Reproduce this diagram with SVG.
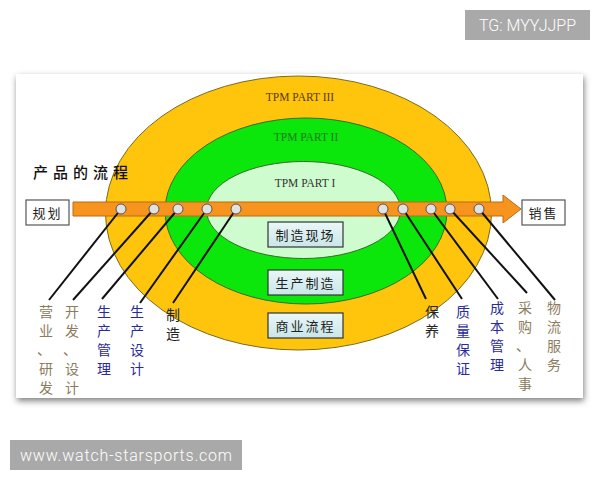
<svg xmlns="http://www.w3.org/2000/svg" width="600" height="480" viewBox="0 0 600 480">
<defs>
<filter id="sh" x="-5%" y="-5%" width="110%" height="115%">
<feDropShadow dx="1" dy="3" stdDeviation="3" flood-color="#000" flood-opacity="0.5"/>
</filter>
<linearGradient id="bx" x1="0" y1="0" x2="0" y2="1">
<stop offset="0" stop-color="#EAF7F7"/><stop offset="1" stop-color="#C9E6E8"/>
</linearGradient>
</defs>
<style>
.cjk{font-family:"Noto Sans CJK SC","Noto Sans CJK JP",sans-serif;}
.lbl{font-size:14px;text-anchor:middle;}
.gray{fill:#8C7C5E;}
.blue{fill:#2A2A9E;}
.blk{fill:#222;}
.tpm{font-family:"Liberation Serif","DejaVu Serif",serif;font-size:11.5px;text-anchor:middle;}
.box{fill:url(#bx);stroke:#333;stroke-width:1.2;}
.wbox{fill:#fff;stroke:#555;stroke-width:1.2;}
.dot{fill:#E2E2E2;stroke:#555;stroke-width:1;}
.conn line{stroke:#111;stroke-width:2;}
.wm{fill:#A9A9A9;}
.wmt{font-family:Roboto,"Liberation Sans",Arial,sans-serif;font-weight:300;font-size:16px;fill:#fff;}
</style>
<rect width="600" height="480" fill="#fff"/>
<g id="tg"><rect class="wm" x="465" y="10" width="125" height="30"/><text class="wmt" x="527.5" y="31" text-anchor="middle">TG: MYYJJPP</text></g>
<g id="card"><rect x="16" y="74" width="567" height="324" fill="#fff" filter="url(#sh)"/></g>
<g id="tpm3"><ellipse cx="298.5" cy="213" rx="193" ry="137" fill="#FFC50C" stroke="#7A6A20" stroke-width="1"/><text class="tpm" x="300" y="101" fill="#5A3A10">TPM PART III</text></g>
<g id="tpm2"><ellipse cx="306" cy="211" rx="141" ry="93" fill="#0BE60B" stroke="#3A6A2A" stroke-width="1"/><text class="tpm" x="306" y="141" fill="#1E7A1E">TPM PART II</text></g>
<g id="tpm1"><ellipse cx="303.5" cy="210" rx="97" ry="48.5" fill="#CFFCCF" stroke="#3A6A2A" stroke-width="1"/><text class="tpm" x="305" y="187" fill="#333">TPM PART I</text></g>
<g id="title"><text class="cjk" x="33" y="178" font-size="15" font-weight="500" letter-spacing="5" fill="#111">产品的流程</text></g>
<g id="flow"><path d="M73,202 H503 V195 L521,209 L503,223 V216 H73 Z" fill="#F7941D" stroke="#B86A18" stroke-width="1"/></g>
<g id="plan"><rect class="wbox" x="26" y="200" width="43" height="25"/><text class="cjk" x="47.5" y="217.5" font-size="13" text-anchor="middle" letter-spacing="2" fill="#222">规划</text></g>
<g id="sales"><rect class="wbox" x="522" y="200" width="43" height="25"/><text class="cjk" x="543.5" y="217.5" font-size="13" text-anchor="middle" letter-spacing="2" fill="#222">销售</text></g>
<g id="site"><rect class="box" x="268" y="222" width="75" height="25"/><text class="cjk" x="305.5" y="239.5" font-size="13" text-anchor="middle" letter-spacing="2" fill="#222">制造现场</text></g>
<g id="prod"><rect class="box" x="268" y="270" width="75" height="25"/><text class="cjk" x="305.5" y="287.5" font-size="13" text-anchor="middle" letter-spacing="2" fill="#222">生产制造</text></g>
<g id="biz"><rect class="box" x="268" y="313" width="75" height="25"/><text class="cjk" x="305.5" y="330.5" font-size="13" text-anchor="middle" letter-spacing="2" fill="#222">商业流程</text></g>
<g id="connectors" class="conn">
<line x1="121" y1="209" x2="49" y2="300"/>
<line x1="154" y1="209" x2="73" y2="300"/>
<line x1="178" y1="209" x2="102" y2="299"/>
<line x1="207" y1="209" x2="140" y2="303"/>
<line x1="236" y1="209" x2="173" y2="303"/>
<line x1="383" y1="209" x2="426" y2="299"/>
<line x1="403" y1="209" x2="462" y2="299"/>
<line x1="431" y1="209" x2="498" y2="299"/>
<line x1="450" y1="209" x2="527" y2="293"/>
<line x1="479" y1="209" x2="555" y2="300"/>
</g>
<g id="dots">
<circle class="dot" cx="121" cy="209" r="5"/><circle class="dot" cx="154" cy="209" r="5"/><circle class="dot" cx="178" cy="209" r="5"/><circle class="dot" cx="207" cy="209" r="5"/><circle class="dot" cx="236" cy="209" r="5"/>
<circle class="dot" cx="383" cy="209" r="5"/><circle class="dot" cx="403" cy="209" r="5"/><circle class="dot" cx="431" cy="209" r="5"/><circle class="dot" cx="450" cy="209" r="5"/><circle class="dot" cx="479" cy="209" r="5"/>
</g>
<g id="l1"><text class="cjk lbl gray"><tspan x="46" y="317">营</tspan><tspan x="46" y="336">业</tspan><tspan x="44" y="355">、</tspan><tspan x="46" y="374">研</tspan><tspan x="46" y="393">发</tspan></text></g>
<g id="l2"><text class="cjk lbl gray"><tspan x="72" y="317">开</tspan><tspan x="72" y="336">发</tspan><tspan x="70" y="355">、</tspan><tspan x="72" y="374">设</tspan><tspan x="72" y="393">计</tspan></text></g>
<g id="l3"><text class="cjk lbl blue"><tspan x="104" y="317">生</tspan><tspan x="104" y="336">产</tspan><tspan x="104" y="355">管</tspan><tspan x="104" y="374">理</tspan></text></g>
<g id="l4"><text class="cjk lbl blue"><tspan x="137" y="317">生</tspan><tspan x="137" y="336">产</tspan><tspan x="137" y="355">设</tspan><tspan x="137" y="374">计</tspan></text></g>
<g id="l5"><text class="cjk lbl blk"><tspan x="173" y="320">制</tspan><tspan x="173" y="339">造</tspan></text></g>
<g id="r1"><text class="cjk lbl blk"><tspan x="432" y="317">保</tspan><tspan x="432" y="336">养</tspan></text></g>
<g id="r2"><text class="cjk lbl blue"><tspan x="463" y="317">质</tspan><tspan x="463" y="336">量</tspan><tspan x="463" y="355">保</tspan><tspan x="463" y="374">证</tspan></text></g>
<g id="r3"><text class="cjk lbl blue"><tspan x="497" y="313">成</tspan><tspan x="497" y="332">本</tspan><tspan x="497" y="351">管</tspan><tspan x="497" y="370">理</tspan></text></g>
<g id="r4"><text class="cjk lbl gray"><tspan x="525" y="313">采</tspan><tspan x="525" y="332">购</tspan><tspan x="523" y="351">、</tspan><tspan x="525" y="370">人</tspan><tspan x="525" y="389">事</tspan></text></g>
<g id="r5"><text class="cjk lbl gray"><tspan x="554" y="313">物</tspan><tspan x="554" y="332">流</tspan><tspan x="554" y="351">服</tspan><tspan x="554" y="370">务</tspan></text></g>
<g id="site-wm"><rect class="wm" x="10" y="440" width="232" height="30"/><text class="wmt" x="126" y="461" text-anchor="middle" textLength="212">www.watch-starsports.com</text></g>
</svg>
